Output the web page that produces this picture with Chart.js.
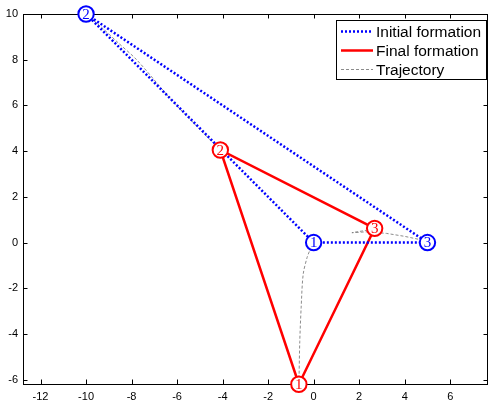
<!DOCTYPE html>
<html><head><meta charset="utf-8">
<script src="https://cdn.jsdelivr.net/npm/chart.js@4/dist/chart.umd.min.js"></script>
<style>html,body{margin:0;padding:0;background:#fff}#wrap{width:489px;height:408px}</style>
</head><body><div id="wrap"><canvas id="c" width="489" height="408"></canvas></div>
<script>
// ---- data ----
const nodeLabels = ['1', '2', '3'];
const initialX = [0, -10, 5];
const initialY = [0, 10, 0];
const finalX = [-0.65, -4.1, 2.68];
const finalY = [-6.2, 4.05, 0.62];
const traj1X = [0, -0.18, -0.29, -0.46, -0.55, -0.61, -0.64, -0.65];
const traj1Y = [0, -0.37, -0.66, -1.39, -2.86, -4.33, -5.8, -6.2];
const traj2X = [-10, -9.3, -8.6, -7.76, -6.3, -5.0, -4.1];
const traj2Y = [10, 9.4, 8.75, 7.98, 6.3, 4.95, 4.05];
const traj3X = [5, 4.76, 4.0, 3.2, 2.34, 1.68, 2.1, 2.68];
const traj3Y = [0, 0.11, 0.27, 0.4, 0.47, 0.43, 0.5, 0.6];
const xTicks = [-12, -10, -8, -6, -4, -2, 0, 2, 4, 6];
const yTicks = [-6, -4, -2, 0, 2, 4, 6, 8, 10];
const xMin = -12.77, xMax = 7.66, yMin = -6.19, yMax = 10;
const legendLabels = ['Initial formation', 'Final formation', 'Trajectory'];

const BLUE = '#0000ff', RED = '#ff0000', GRAY = '#7f7f7f';

function pts(xs, ys) { return xs.map((x, i) => ({x: x, y: ys[i]})); }
function closed(xs, ys) { const p = pts(xs, ys); p.push(p[0]); return p; }

const lineStyle = {showLine: true, pointRadius: 0, pointHoverRadius: 0, fill: false, clip: false};

const datasets = [
  Object.assign({label: legendLabels[0], data: closed(initialX, initialY), borderColor: BLUE,
    borderWidth: 2.5, borderDash: [2, 2], borderCapStyle: 'butt', tension: 0}, lineStyle),
  Object.assign({label: legendLabels[1], data: closed(finalX, finalY), borderColor: RED,
    borderWidth: 2.5, tension: 0}, lineStyle),
  Object.assign({label: legendLabels[2], data: pts(traj1X, traj1Y), borderColor: GRAY,
    borderWidth: 0.9, borderDash: [3, 2], tension: 0.3}, lineStyle),
  Object.assign({label: legendLabels[2] + ' 2', data: pts(traj2X, traj2Y), borderColor: GRAY,
    borderWidth: 0.9, borderDash: [3, 2], tension: 0.3}, lineStyle),
  Object.assign({label: legendLabels[2] + ' 3', data: pts(traj3X, traj3Y), borderColor: GRAY,
    borderWidth: 0.9, borderDash: [3, 2], tension: 0}, lineStyle)
];

const framePlugin = {
  id: 'frame',
  afterDraw(chart) {
    const ctx = chart.ctx, a = chart.chartArea;
    const xs = chart.scales.x, ys = chart.scales.y;
    ctx.save();
    // box
    ctx.strokeStyle = '#000'; ctx.lineWidth = 1; ctx.setLineDash([]);
    ctx.strokeRect(Math.round(a.left) + 0.5, Math.round(a.top) + 0.5,
      Math.round(a.right - a.left) - 1, Math.round(a.bottom - a.top));
    // inward ticks
    const tl = 4.5;
    ctx.beginPath();
    xTicks.forEach(v => {
      const px = Math.round(xs.getPixelForValue(v)) + 0.5;
      ctx.moveTo(px, a.bottom); ctx.lineTo(px, a.bottom - tl);
      ctx.moveTo(px, a.top); ctx.lineTo(px, a.top + tl);
    });
    yTicks.forEach(v => {
      const py = Math.round(ys.getPixelForValue(v)) + 0.5;
      ctx.moveTo(a.left, py); ctx.lineTo(a.left + tl, py);
      ctx.moveTo(a.right, py); ctx.lineTo(a.right - tl, py);
    });
    ctx.stroke();

    // node markers
    function markers(X, Y, color) {
      X.forEach((x, i) => {
        const px = xs.getPixelForValue(x), py = ys.getPixelForValue(Y[i]);
        ctx.beginPath();
        ctx.arc(px, py, 7.7, 0, Math.PI * 2);
        ctx.fillStyle = '#fff'; ctx.fill();
        ctx.lineWidth = 2; ctx.strokeStyle = color; ctx.setLineDash([]); ctx.stroke();
        ctx.fillStyle = color;
        ctx.font = '15px "Liberation Serif", "DejaVu Serif", serif';
        ctx.textAlign = 'center'; ctx.textBaseline = 'middle';
        ctx.fillText(nodeLabels[i], px, py + 1);
      });
    }
    markers(initialX, initialY, BLUE);
    markers(finalX, finalY, RED);

    // legend
    const bx = 336.5, by = 20.5, bw = 150, bh = 59;
    ctx.fillStyle = '#fff'; ctx.fillRect(bx, by, bw, bh);
    ctx.strokeStyle = '#000'; ctx.lineWidth = 1; ctx.strokeRect(bx, by, bw, bh);
    const rows = [31.5, 50.5, 69.5];
    const styles = [
      {c: BLUE, w: 2.5, d: [2, 2]},
      {c: RED, w: 2.5, d: []},
      {c: GRAY, w: 0.9, d: [3, 2]}
    ];
    ctx.font = '15.5px "Liberation Sans", Arial, sans-serif';
    ctx.textAlign = 'left'; ctx.textBaseline = 'middle';
    rows.forEach((ry, i) => {
      const s = styles[i];
      ctx.beginPath(); ctx.setLineDash(s.d); ctx.lineCap = 'butt';
      ctx.strokeStyle = s.c; ctx.lineWidth = s.w;
      ctx.moveTo(341, ry); ctx.lineTo(373, ry); ctx.stroke();
      ctx.setLineDash([]);
      ctx.fillStyle = '#000';
      ctx.fillText(legendLabels[i], 376, ry + 1);
    });
    ctx.restore();
  }
};

new Chart(document.getElementById('c'), {
  type: 'scatter',
  data: {datasets: datasets},
  options: {
    responsive: false, animation: false, devicePixelRatio: 1,
    layout: {padding: {top: 14, right: 1, left: 0, bottom: 0}},
    plugins: {legend: {display: false}, tooltip: {enabled: false}},
    events: [],
    scales: {
      x: {
        type: 'linear', min: xMin, max: xMax,
        afterFit: s => { s.height = 24; },
        afterBuildTicks: s => { s.ticks = xTicks.map(v => ({value: v})); },
        grid: {display: false, drawTicks: false}, border: {display: false},
        ticks: {autoSkip: false, maxRotation: 0, color: '#000', padding: 6,
          font: {family: '"Liberation Sans", Arial, sans-serif', size: 11}}
      },
      y: {
        type: 'linear', min: yMin, max: yMax,
        afterFit: s => { s.width = 23; },
        afterBuildTicks: s => { s.ticks = yTicks.map(v => ({value: v})); },
        grid: {display: false, drawTicks: false}, border: {display: false},
        ticks: {autoSkip: false, color: '#000', padding: 5,
          font: {family: '"Liberation Sans", Arial, sans-serif', size: 11}}
      }
    }
  },
  plugins: [framePlugin]
});
</script></body></html>
